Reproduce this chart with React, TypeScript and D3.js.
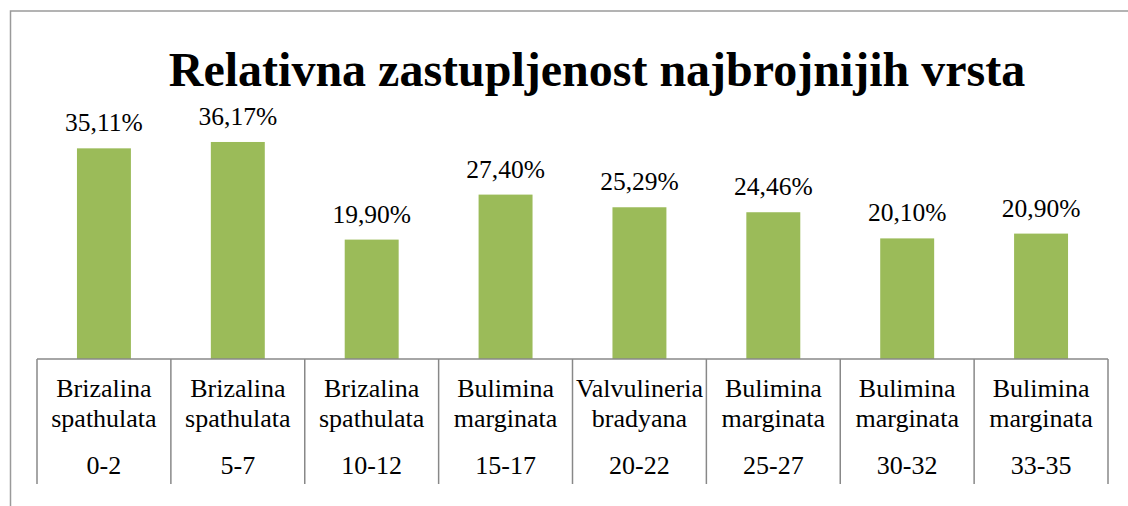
import React from "react";
import * as d3 from "d3";

const speciesLine1 = ["Brizalina", "Brizalina", "Brizalina", "Bulimina", "Valvulineria", "Bulimina", "Bulimina", "Bulimina"];
const speciesLine2 = ["spathulata", "spathulata", "spathulata", "marginata", "bradyana", "marginata", "marginata", "marginata"];
const depths = ["0-2", "5-7", "10-12", "15-17", "20-22", "25-27", "30-32", "33-35"];
const values = [35.11, 36.17, 19.9, 27.4, 25.29, 24.46, 20.1, 20.9];
const valueLabels = ["35,11%", "36,17%", "19,90%", "27,40%", "25,29%", "24,46%", "20,10%", "20,90%"];

const W = 1128;
const H = 506;
const left = 37;
const right = 1108;
const axisY = 359;
const tickBottom = 484;
const ts: React.CSSProperties = { fontFamily: "'Liberation Serif', 'Times New Roman', serif" };

export default function App() {
  const x = d3.scaleBand<number>().domain(d3.range(values.length)).range([left, right]).paddingInner(0).paddingOuter(0);
  const y = d3.scaleLinear().domain([0, 40]).range([axisY, axisY - 240]);
  const bw = x.bandwidth();
  const barW = bw * 0.403;
  const ticks = d3.range(values.length + 1).map((i) => left + i * bw);
  return (
    <svg width={W} height={H} style={{ position: "absolute", left: 0, top: 0, display: "block" }}>
      <rect x={0} y={0} width={W} height={H} fill="#fff" />
      <rect x={10.5} y={11} width={W + 10} height={H + 10} fill="none" stroke="#9a9a9a" strokeWidth={1.5} />
      <text x={597} y={86} textAnchor="middle" fontSize={48} fontWeight="bold" fill="#000" style={ts}>
        Relativna zastupljenost najbrojnijih vrsta
      </text>
      {values.map((v, i) => {
        const cx = (x(i) as number) + bw / 2;
        return (
          <g key={i}>
            <rect x={cx - barW / 2} y={y(v)} width={barW} height={axisY - y(v)} fill="#9BBB59" />
            <text x={cx} y={y(v) - 17} textAnchor="middle" fontSize={25.5} fill="#000" style={ts}>
              {valueLabels[i]}
            </text>
            <text x={cx} y={397} textAnchor="middle" fontSize={26} fill="#000" style={ts}>{speciesLine1[i]}</text>
            <text x={cx} y={427} textAnchor="middle" fontSize={26} fill="#000" style={ts}>{speciesLine2[i]}</text>
            <text x={cx} y={474} textAnchor="middle" fontSize={26} fill="#000" style={ts}>{depths[i]}</text>
          </g>
        );
      })}
      <line x1={left} x2={right} y1={axisY} y2={axisY} stroke="#888" strokeWidth={1.5} />
      {ticks.map((t, i) => (
        <line key={i} x1={t} x2={t} y1={axisY} y2={tickBottom} stroke="#888" strokeWidth={1.5} />
      ))}
    </svg>
  );
}
